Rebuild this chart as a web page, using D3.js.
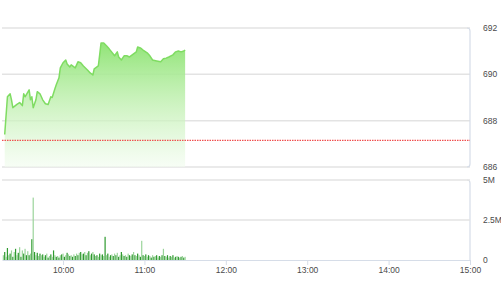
<!DOCTYPE html>
<html>
<head>
<meta charset="utf-8">
<script src="https://cdn.jsdelivr.net/npm/d3@7"></script>
<style>
  body { margin: 0; background: #fff; }
  svg { display: block; font-family: "Liberation Sans", Arial, sans-serif; }
</style>
</head>
<body>
<div id="chart"></div>
<script>
// price samples (time, index value)
const priceTimes = ['09:17','09:19','09:21','09:22','09:23','09:26','09:28','09:30','09:31','09:32',
  '09:35','09:36','09:37','09:38','09:40','09:41','09:43','09:45','09:47','09:49',
  '09:51','09:52','09:54','09:55','09:57','09:58','10:00','10:02','10:03','10:05',
  '10:06','10:09','10:11','10:13','10:15','10:18','10:20','10:22','10:23','10:26',
  '10:27','10:28','10:30','10:32','10:34','10:37','10:38','10:40','10:41','10:43',
  '10:45','10:47','10:49','10:51','10:54','10:55','10:57','10:59','11:02','11:04',
  '11:06','11:09','11:12','11:14','11:16','11:18','11:21','11:23','11:25','11:27',
  '11:29','11:30'];
const priceValues = [687.4, 689.03, 689.16, 688.9, 688.56, 688.7, 688.78, 688.65, 689.16, 689.03,
  689.33, 688.9, 689.03, 688.56, 688.9, 689.25, 689.16, 688.9, 688.73, 688.7,
  689.03, 689.0, 689.38, 689.55, 689.85, 690.28, 690.5, 690.62, 690.45, 690.32,
  690.41, 690.28, 690.54, 690.5, 690.36, 690.19, 690.06, 689.97, 690.24, 690.36,
  690.84, 691.35, 691.35, 691.23, 691.1, 690.88, 690.8, 690.97, 690.75, 690.62,
  690.8, 690.8, 690.75, 690.84, 690.97, 691.18, 691.14, 691.05, 690.93, 690.8,
  690.62, 690.58, 690.54, 690.67, 690.7, 690.75, 690.84, 690.97, 691.01, 690.97,
  691.01, 691.05];
const refPrice = 687.15;

// volume per minute from 09:16 to 11:30, in millions
const volumeStart = '09:16';
const volumeValues = [
  0.3, 0.5, 0.2, 0.75, 0.3, 0.4, 0.6, 0.2, 0.5, 0.7,
  0.3, 0.45, 0.8, 0.2, 0.6, 0.4, 0.7, 0.3, 0.55, 0.3,
  0.4, 1.3, 3.9, 0.5, 0.3, 0.45, 0.25, 0.4, 0.3, 0.35,
  0.2, 0.3, 0.4, 0.15, 0.25, 0.35, 0.2, 0.6, 0.3, 0.2,
  0.25, 0.15, 0.3, 0.35, 0.4, 0.2, 0.3, 0.45, 0.35, 0.25,
  0.3, 0.2, 0.35, 0.25, 0.4, 0.3, 0.45, 0.5, 0.35, 0.4,
  0.5, 0.3, 0.45, 0.55, 0.3, 0.4, 0.5, 0.35, 0.25, 0.3,
  0.2, 0.4, 0.3, 0.35, 0.25, 1.45, 0.3, 0.4, 0.2, 0.3,
  0.35, 0.25, 0.4, 0.3, 0.45, 0.2, 0.3, 0.5, 0.35, 0.25,
  0.3, 0.2, 0.4, 0.3, 0.25, 0.35, 0.5, 0.3, 0.25, 0.4,
  0.3, 0.2, 1.2, 0.3, 0.25, 0.35, 0.2, 0.3, 0.25, 0.15,
  0.3, 0.2, 0.25, 0.3, 0.15, 0.25, 0.2, 0.3, 0.7, 0.25,
  0.2, 0.3, 0.15, 0.25, 0.2, 0.3, 0.15, 0.2, 0.25, 0.2,
  0.15, 0.2, 0.25, 0.15, 0.2];

const priceTicks = [686, 688, 690, 692];
const volumeTicks = [0, 2.5, 5];
const timeTicks = ['10:00', '11:00', '12:00', '13:00', '14:00', '15:00'];

const W = 501, H = 300;
const left = 2, right = 470;
const priceTop = 28, priceBottom = 167;
const volTop = 180, volBottom = 260;

const parse = d3.timeParse('%H:%M');
const fmt = d3.timeFormat('%H:%M');

const x = d3.scaleTime()
  .domain([parse('09:15'), parse('15:00')])
  .range([left, right]);
const yP = d3.scaleLinear().domain([686, 692]).range([priceBottom, priceTop]);
const yV = d3.scaleLinear().domain([0, 5]).range([volBottom, volTop]);

const prices = priceTimes.map((t, i) => ({ t: parse(t), v: priceValues[i] }));
const t0 = parse(volumeStart);
const volumes = volumeValues.map((v, i) => ({ t: d3.timeMinute.offset(t0, i), v }));

const svg = d3.select('#chart').append('svg')
  .attr('width', W).attr('height', H);

const defs = svg.append('defs');
const grad = defs.append('linearGradient')
  .attr('id', 'fillGrad')
  .attr('gradientUnits', 'userSpaceOnUse')
  .attr('x1', 0).attr('x2', 0)
  .attr('y1', yP(691.4)).attr('y2', priceBottom);
grad.append('stop').attr('offset', '0%').attr('stop-color', '#90e476').attr('stop-opacity', 1);
grad.append('stop').attr('offset', '55%').attr('stop-color', '#c4f1b5').attr('stop-opacity', 0.75);
grad.append('stop').attr('offset', '100%').attr('stop-color', '#f2fcef').attr('stop-opacity', 0.6);

// price grid
svg.append('g')
  .selectAll('line')
  .data(priceTicks)
  .join('line')
  .attr('x1', left).attr('x2', right)
  .attr('y1', d => yP(d)).attr('y2', d => yP(d))
  .attr('stroke', '#e3e3e3').attr('stroke-width', 1.5);

// panel right borders
const border = '#d6dde8';
svg.append('path')
  .attr('d', `M${right - 3},${priceTop} Q${right},${priceTop} ${right},${priceTop + 3} L${right},${priceBottom - 3} Q${right},${priceBottom} ${right - 3},${priceBottom}`)
  .attr('fill', 'none').attr('stroke', border).attr('stroke-width', 1.2);
svg.append('path')
  .attr('d', `M${right - 3},${volTop} Q${right},${volTop} ${right},${volTop + 3} L${right},${volBottom}`)
  .attr('fill', 'none').attr('stroke', border).attr('stroke-width', 1.2);

// price area + line
const area = d3.area()
  .x(d => x(d.t)).y0(priceBottom).y1(d => yP(d.v));
const line = d3.line()
  .x(d => x(d.t)).y(d => yP(d.v));

svg.append('path').datum(prices)
  .attr('d', area).attr('fill', 'url(#fillGrad)');
svg.append('path').datum(prices)
  .attr('d', line).attr('fill', 'none')
  .attr('stroke', '#7fdc62').attr('stroke-width', 1.5)
  .attr('stroke-linejoin', 'round');

// reference line
svg.append('line')
  .attr('x1', left).attr('x2', right)
  .attr('y1', yP(refPrice)).attr('y2', yP(refPrice))
  .attr('stroke', '#f05050').attr('stroke-width', 1.2)
  .attr('stroke-dasharray', '1.5,1');

// price labels
svg.append('g')
  .selectAll('text')
  .data(priceTicks)
  .join('text')
  .attr('x', 483).attr('y', d => yP(d)).attr('dy', '0.35em')
  .attr('font-size', 8.5).attr('fill', '#4a4a4a')
  .text(d => d);

// volume grid
svg.append('g')
  .selectAll('line')
  .data(volumeTicks.filter(d => d > 0))
  .join('line')
  .attr('x1', left).attr('x2', right)
  .attr('y1', d => yV(d)).attr('y2', d => yV(d))
  .attr('stroke', '#e3e3e3').attr('stroke-width', 1.5);

// volume bars
svg.append('g')
  .selectAll('rect')
  .data(volumes)
  .join('rect')
  .attr('x', d => x(d.t) - 0.6)
  .attr('width', 1.2)
  .attr('y', d => yV(d.v))
  .attr('height', d => volBottom - yV(d.v))
  .attr('fill', (d, i) => i % 2 ? '#2f9a2f' : '#9bd49b');

// volume labels
svg.append('g')
  .selectAll('text')
  .data(volumeTicks)
  .join('text')
  .attr('x', 483).attr('y', d => yV(d)).attr('dy', '0.35em')
  .attr('font-size', 8.5).attr('fill', '#4a4a4a')
  .text(d => d === 0 ? '0' : d + 'M');

// time axis
const xAxis = svg.append('g')
  .attr('transform', `translate(0,${volBottom})`)
  .call(d3.axisBottom(x)
    .tickValues(timeTicks.map(parse))
    .tickFormat(fmt)
    .tickSize(5)
    .tickSizeOuter(0));
xAxis.select('.domain').attr('stroke', border).attr('stroke-width', 1.2);
xAxis.selectAll('.tick line').attr('stroke', border);
xAxis.selectAll('.tick text')
  .attr('font-size', 8.5).attr('fill', '#4a4a4a')
  .attr('font-family', '"Liberation Sans", Arial, sans-serif')
  .attr('dy', '0.75em').attr('y', 7);
</script>
</body>
</html>
